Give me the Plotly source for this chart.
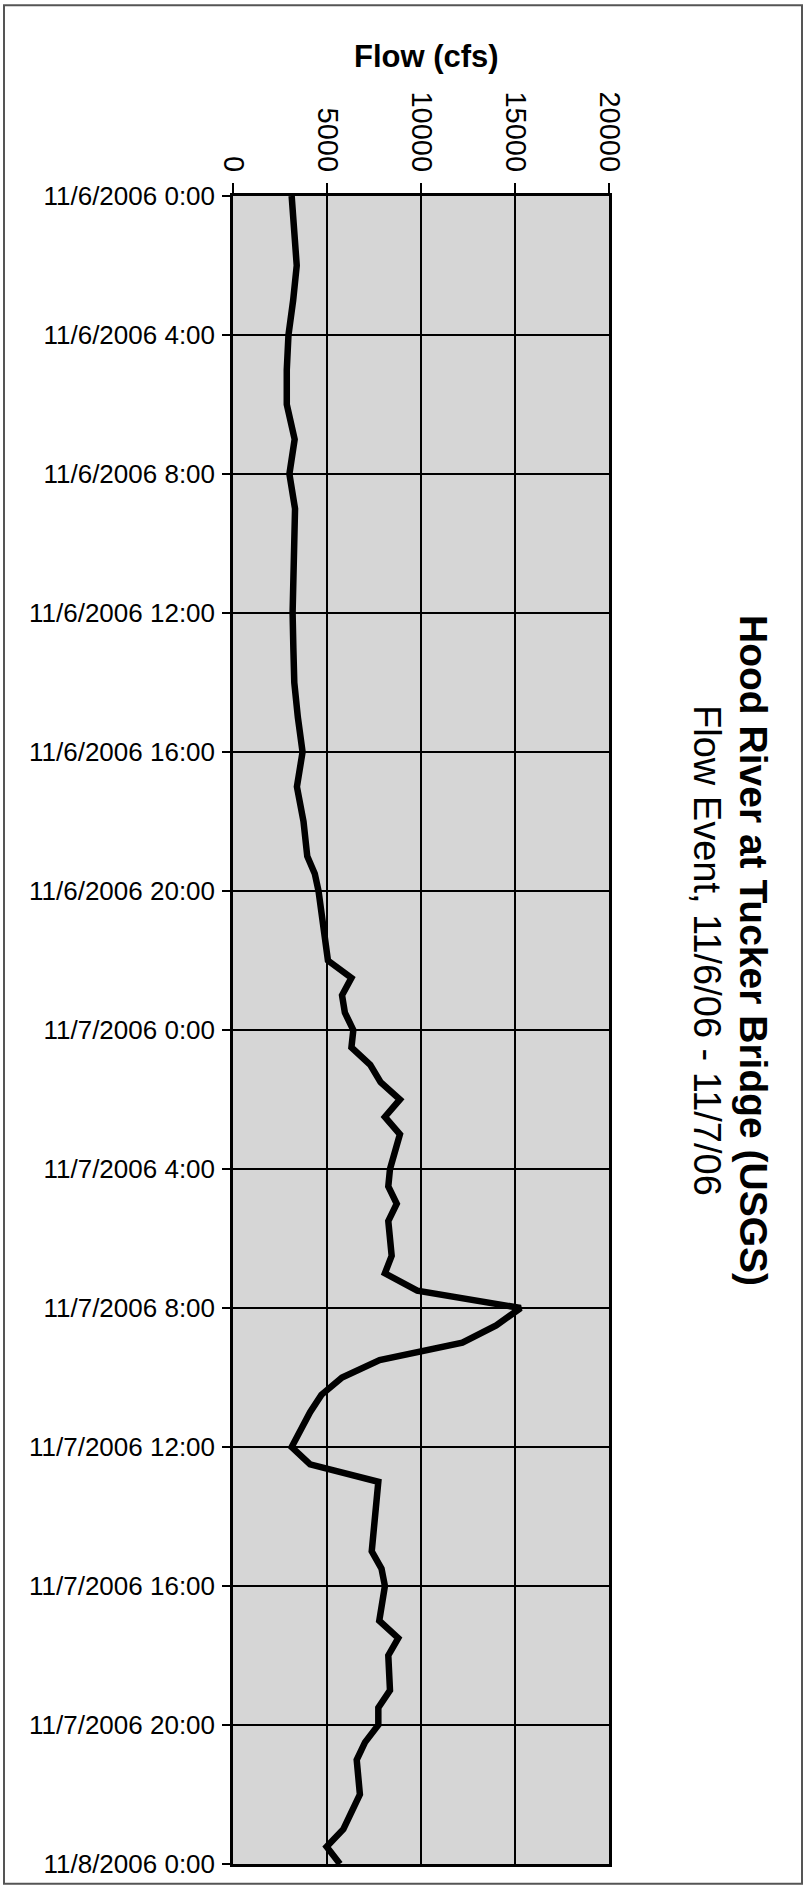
import pandas as pd
import plotly.graph_objects as go

# ---- data ----
start_time = "2006-11-06 00:00"
end_time = "2006-11-08 00:00"
hours = [0, 1, 2, 3, 4, 5, 6, 7, 8, 9, 10, 11, 12, 13, 14, 15, 16, 17, 18, 19,
         19.5, 20, 21, 22, 22.5, 23, 23.5, 24, 24.5, 25, 25.5, 26, 26.5, 27, 28,
         28.5, 29, 29.5, 30.5, 31, 31.5, 32, 32.5, 33, 33.5, 34, 34.5, 35, 36,
         36.5, 37, 38, 39, 39.5, 40, 41, 41.5, 42, 43, 43.5, 44, 44.5, 45, 46,
         47, 47.5, 48]
flow_cfs = [3120, 3280, 3390, 3200, 2950, 2860, 2860, 3280, 3000, 3300, 3250, 3200,
            3170, 3210, 3260, 3450, 3700, 3400, 3750, 3950, 4350, 4550, 4800, 5050,
            6300, 5800, 5950, 6400, 6300, 7300, 7850, 8880, 8080, 8880, 8350, 8260,
            8710, 8260, 8440, 8080, 9800, 15300, 14000, 12200, 7800, 5800, 4700,
            4100, 3120, 4100, 7730, 7550, 7380, 7900, 8080, 7780, 8790, 8260, 8350,
            7730, 7730, 7020, 6580, 6750, 5870, 4980, 5690]
x_ticks = [0, 5000, 10000, 15000, 20000]
x_tick_labels = ["0", "5000", "10000", "15000", "20000"]
axis_title = "Flow (cfs)"
chart_title = "Hood River at Tucker Bridge (USGS)"
chart_subtitle = "Flow Event, 11/6/06 - 11/7/06"

times = pd.Timestamp(start_time) + pd.to_timedelta(hours, unit="h")

W, H = 808, 1891
L, R, T, B = 233, 609, 196, 1875
pw, ph = R - L, B - T

def px(xp):
    return (xp - L) / pw

def py(yp):
    return (B - yp) / ph

font_family = "Liberation Sans, Arial, sans-serif"

fig = go.Figure()
fig.add_trace(go.Scatter(
    x=flow_cfs, y=times, mode="lines",
    line=dict(color="black", width=6.5), hoverinfo="x+y", showlegend=False,
))

fig.update_layout(
    width=W, height=H,
    margin=dict(l=L, r=W - R, t=T, b=H - B, pad=0),
    paper_bgcolor="white",
    plot_bgcolor="#d6d6d6",
    font=dict(family=font_family, color="black"),
    showlegend=False,
)

fig.update_xaxes(
    side="top", range=[0, 20000], tickvals=x_ticks, ticktext=x_tick_labels,
    tickangle=90, tickfont=dict(size=29, family=font_family, color="black"),
    ticks="outside", ticklen=10, tickwidth=1.5, tickcolor="black",
    ticklabelstandoff=1,
    showgrid=True, gridcolor="black", gridwidth=1.5,
    showline=True, linecolor="black", linewidth=2.5, mirror=True,
    zeroline=False,
)

fig.update_yaxes(
    type="date", range=[end_time, start_time],
    dtick=4 * 3600 * 1000, tick0=start_time,
    tickformat="%-m/%-d/%Y %-H:%M",
    tickfont=dict(size=26, family=font_family, color="black"),
    ticks="outside", ticklen=8, tickwidth=1.5, tickcolor="black",
    ticklabelstandoff=2,
    showgrid=True, gridcolor="black", gridwidth=2,
    showline=True, linecolor="black", linewidth=2.5, mirror=True,
    zeroline=False,
)

fig.add_annotation(
    text="<b>" + axis_title + "</b>", xref="paper", yref="paper",
    x=px(426), y=py(56), xanchor="center", yanchor="middle",
    showarrow=False, font=dict(size=31, family=font_family, color="black"),
)
fig.add_annotation(
    text="<b>" + chart_title + "</b>", xref="paper", yref="paper",
    x=px(754), y=py(955), xanchor="center", yanchor="middle",
    textangle=90, showarrow=False,
    font=dict(size=39, family=font_family, color="black"),
)
fig.add_annotation(
    text=chart_subtitle, xref="paper", yref="paper",
    x=px(707), y=py(955), xanchor="center", yanchor="middle",
    textangle=90, showarrow=False,
    font=dict(size=38, family=font_family, color="black"),
)

# outer chart frame
fig.add_shape(
    type="rect", xref="paper", yref="paper",
    x0=px(4), x1=px(802), y0=py(1895), y1=py(4),
    line=dict(color="#555555", width=2), fillcolor="rgba(0,0,0,0)", layer="below",
)

fig.write_html(
    "out.html",
    config={"displayModeBar": False},
    post_script="document.body.style.margin='0';document.body.style.overflow='hidden';",
)
